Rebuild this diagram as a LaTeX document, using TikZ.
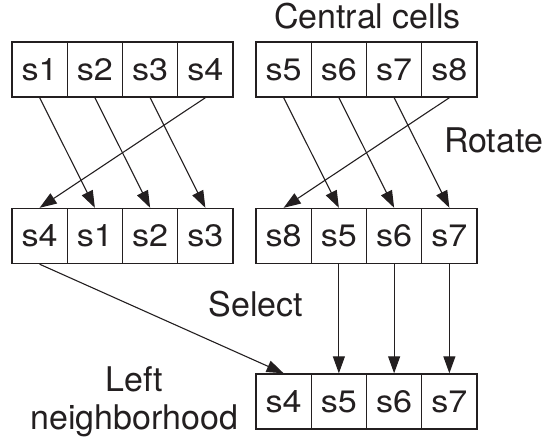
\documentclass[tikz,border=0pt]{standalone}
\usepackage{fontspec}
\setmainfont{TeX Gyre Heros}
\newfontfamily\cellfont[FakeStretch=1.1]{TeX Gyre Heros}
\usetikzlibrary{arrows.meta}
\definecolor{ink}{HTML}{231F20}
\begin{document}
\begin{tikzpicture}[x=1pt,y=-1pt,
  cell/.style={draw=ink, text=ink, line width=1.4pt, minimum width=55.25pt,
    minimum height=55pt, inner sep=0pt, font=\cellfont\fontsize{31}{31}\selectfont},
  lbl/.style={text=ink, font=\fontsize{34}{34}\selectfont, inner sep=0pt, anchor=base},
  link/.style={draw=ink, line width=1.1pt, -{Triangle[length=17pt,width=12pt]}}]
\useasboundingbox (0,0) rectangle (546,443);

% top row: left and central cells
\foreach \n/\t [count=\i from 0] in {t1/s1,t2/s2,t3/s3,t4/s4}
  \node[cell] (\n) at ({12+55.25*(\i+0.5)},69.5) {\t};
\foreach \n/\t [count=\i from 0] in {t5/s5,t6/s6,t7/s7,t8/s8}
  \node[cell] (\n) at ({256+55.25*(\i+0.5)},69.5) {\t};

% middle row: rotated cells
\foreach \n/\t [count=\i from 0] in {m1/s4,m2/s1,m3/s2,m4/s3}
  \node[cell] (\n) at ({12+55.25*(\i+0.5)},236) {\t};
\foreach \n/\t [count=\i from 0] in {m5/s8,m6/s5,m7/s6,m8/s7}
  \node[cell] (\n) at ({256+55.25*(\i+0.5)},236) {\t};

% bottom row: left neighborhood
\foreach \n/\t [count=\i from 0] in {b1/s4,b2/s5,b3/s6,b4/s7}
  \node[cell] (\n) at ({256+55.25*(\i+0.5)},401.5) {\t};

% rotation
\draw[link] (t1.south) -- (m2.north);
\draw[link] (t2.south) -- (m3.north);
\draw[link] (t3.south) -- (m4.north);
\draw[link] (t4.south) -- (m1.north);
\draw[link] (t5.south) -- (m6.north);
\draw[link] (t6.south) -- (m7.north);
\draw[link] (t7.south) -- (m8.north);
\draw[link] (t8.south) -- (m5.north);

% selection
\draw[link] (m1.south) -- (b1.north);
\draw[link] (m6.south) -- (b2.north);
\draw[link] (m7.south) -- (b3.north);
\draw[link] (m8.south) -- (b4.north);

% labels
\node[lbl] (lc) at (367.5,28.5) {Central cells};
\node[lbl] (lr) at (493.5,153) {Rotate};
\node[lbl] (ls) at (256,316.5) {Select};
\node[lbl] (ll) at (134.5,391.5) {Left};
\node[lbl] (ln) at (134.5,429.5) {neighborhood};
\end{tikzpicture}
\end{document}
